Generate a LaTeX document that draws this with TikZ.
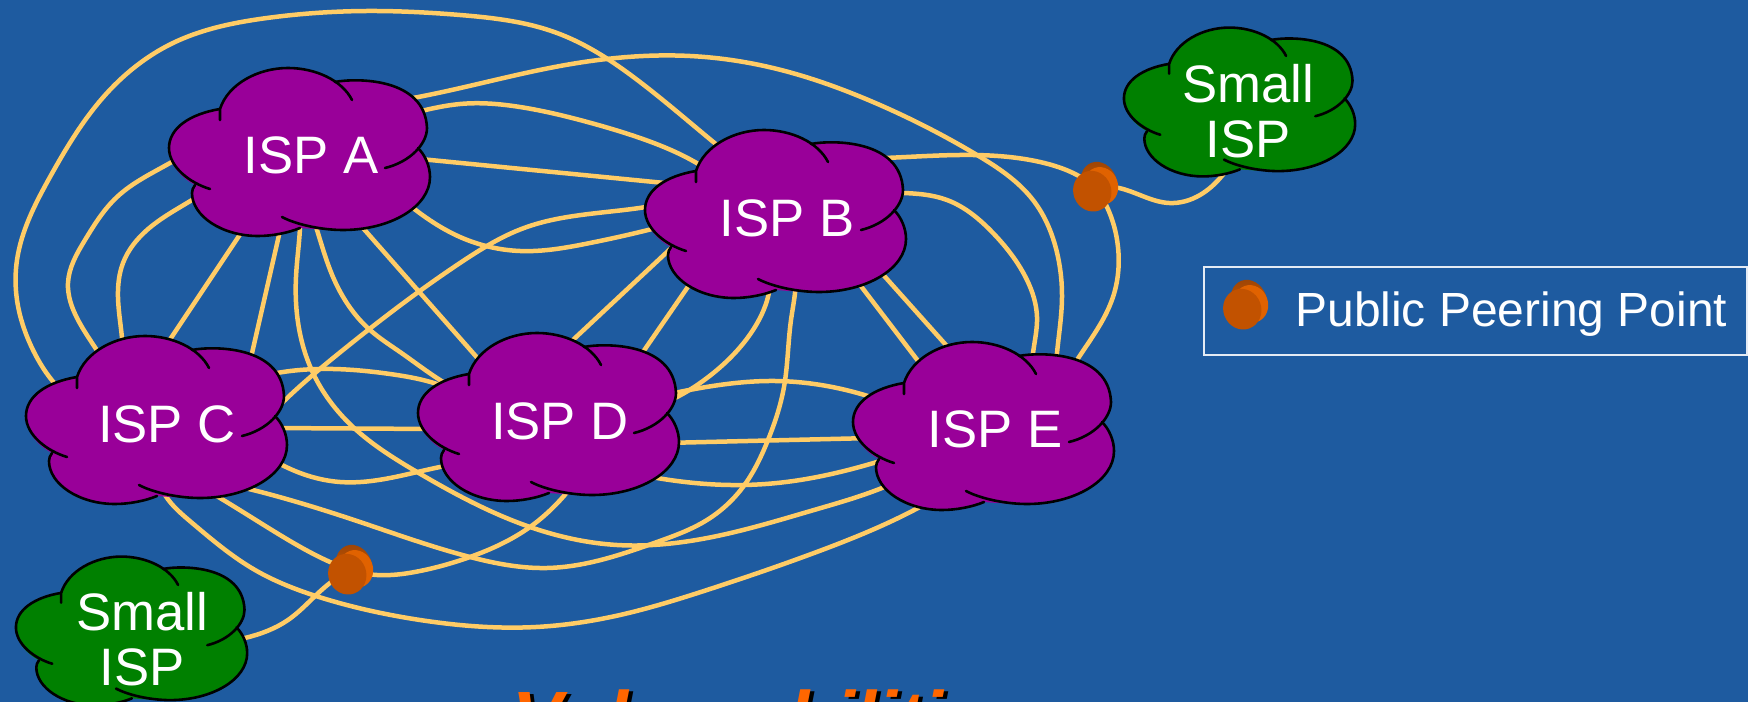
\documentclass[tikz,border=0pt]{standalone}
\usepackage{fontspec}
\setmainfont{Liberation Sans}
\usetikzlibrary{backgrounds, hobby}
\definecolor{slideblue}{RGB}{30,91,160}
\definecolor{linkgold}{RGB}{255,204,102}
\definecolor{ispviolet}{RGB}{153,0,153}
\definecolor{ispgreen}{RGB}{0,128,0}
\definecolor{pinfront}{RGB}{194,82,0}
\definecolor{pinback}{RGB}{224,98,0}
\definecolor{pintop}{RGB}{160,70,5}
\definecolor{headorange}{RGB}{255,102,0}
\tikzset{
    link/.style={draw=linkgold, line width=0.09cm},
    curvelink/.style={link, use Hobby shortcut},
    isplabel/.style={text=white, inner sep=0pt, align=center, font=\fontsize{30}{31.5}\selectfont},
    cloudedge/.style={draw=black, line width=0.052cm, line cap=round},
    cloudblob/.pic={
        \path[pic actions] (-80,-43) .. controls (-72,-68) and (-42,-84) .. (-12,-84)
            .. controls (5,-84) and (22,-79) .. (35,-70)
            .. controls (55,-74) and (125,-75) .. (127,-24)
            .. controls (127,-16) and (124,-10) .. (118,-4)
            .. controls (125,3) and (130,14) .. (130,25)
            .. controls (130,55) and (90,78) .. (43,78)
            .. controls (28,78) and (12,77) .. (0,76)
            .. controls (-12,81) and (-28,84) .. (-42,84)
            .. controls (-78,84) and (-108,64) .. (-108,41)
            .. controls (-108,38) and (-107,36) .. (-105,33)
            .. controls (-120,25) and (-131,12) .. (-131,-4)
            .. controls (-131,-24) and (-110,-38) .. (-80,-43) -- cycle;
        \draw[cloudedge] (-80,-32) -- (-80,-43) .. controls (-72,-68) and (-42,-84) .. (-12,-84)
            .. controls (15,-84) and (42,-72) .. (52,-52);
        \draw[cloudedge] (35,-70) .. controls (55,-74) and (125,-75) .. (127,-24)
            .. controls (127,-8) and (110,10) .. (85,16);
        \draw[cloudedge] (118,-4) .. controls (125,3) and (130,14) .. (130,25)
            .. controls (130,55) and (90,78) .. (43,78) .. controls (20,78) and (-5,72) .. (-18,65);
        \draw[cloudedge] (0,76) .. controls (-12,81) and (-28,84) .. (-42,84)
            .. controls (-78,84) and (-108,64) .. (-108,41) .. controls (-108,38) and (-107,36) .. (-105,33);
        \draw[cloudedge] (-80,-43) .. controls (-110,-38) and (-131,-24) .. (-131,-4)
            .. controls (-131,15) and (-110,31) .. (-90,37);
        \fill (45,-30) -- (56,-26) -- (45,-28) -- cycle;
    },
    peerpin/.pic={
        \shade[top color=pintop, bottom color=pinback, rotate=20] (5,-2) ellipse [x radius=18, y radius=22];
        \fill[pinback, rotate=20] (6,1) ellipse [x radius=17, y radius=19];
        \fill[pinfront, rotate=20] (-4,3) ellipse [x radius=19, y radius=20.5];
    }
}
\begin{document}
\begin{tikzpicture}[x=0.02cm, y=-0.02cm]
    \useasboundingbox (0,0) rectangle (1748,702);

    % Clouds
    \pic[fill=ispviolet] at (300,152) {cloudblob};
    \pic[fill=ispviolet] at (776,214) {cloudblob};
    \pic[fill=ispviolet] at (157,420) {cloudblob};
    \pic[fill=ispviolet] at (549,417) {cloudblob};
    \pic[fill=ispviolet] at (984,426) {cloudblob};
    \pic[fill=ispgreen, scale=0.886] at (1240,102) {cloudblob};
    \pic[fill=ispgreen, scale=0.886] at (132,631) {cloudblob};

    % Cloud labels
    \node[isplabel] (ispa) at (311,155) {ISP A};
    \node[isplabel] (ispb) at (787,218) {ISP B};
    \node[isplabel] (ispc) at (167,424) {ISP C};
    \node[isplabel] (ispd) at (560,421) {ISP D};
    \node[isplabel] (ispe) at (995,429) {ISP E};
    \node[isplabel] (smallup) at (1248,111) {Small\\ISP};
    \node[isplabel] (smalldown) at (142,639) {Small\\ISP};

    % Peering points
    \coordinate (pinup) at (1095,187);
    \coordinate (pindown) at (350,570);
    \pic at (pinup) {peerpin};
    \pic at (pindown) {peerpin};

    % Legend
    \draw[draw=white!88!slideblue, line width=0.04cm] (1204,267) rectangle (1747,355);
    \pic at (1245,305) {peerpin};
    \node[text=white, inner sep=0pt, right, font=\fontsize{27.3}{30}\selectfont] (legendtext) at (1295,314) {Public Peering Point};

    % Heading, cut by the page
    \begin{scope}
        \clip (0,0) rectangle (1748,702);
        \node[inner sep=0pt, anchor=base west, font=\fontsize{43}{45}\selectfont\bfseries\itshape] (headshadow) at (516,746) {Vulnerabilities};
        \node[inner sep=0pt, anchor=base west, text=headorange, font=\fontsize{43}{45}\selectfont\bfseries\itshape] (headline) at (512,744) {Vulnerabilities};
    \end{scope}

    \begin{pgfonlayer}{background}
    \fill[slideblue] (0,0) rectangle (1748,702);

    % Links from ISP A
    \draw[curvelink] (ispa.center) .. (190,152) .. (170,163) .. (117,197) .. (85,240) .. (68,283) .. (77,318) .. (98,352) .. (115,378) .. (ispc.center);
    \draw[curvelink] (ispa.center) .. (215,186) .. (192,200) .. (147,230) .. (123,263) .. (118,297) .. (122,338) .. (125,365) .. (ispc.center);
    \draw[link] ([shift={(-66,72)}]ispa.center) -- ([shift={(-4,-74)}]ispc.center);
    \draw[link] ([shift={(-29,67)}]ispa.center) -- ([shift={(83,-62)}]ispc.center);
    \draw[curvelink] (ispa.center) .. (310,205) .. (317,230) .. (333,277) .. (370,330) .. (400,352) .. (440,380) .. (ispd.center);
    \draw[link] ([shift={(44,64)}]ispa.center) -- ([shift={(-72,-51)}]ispd.center);
    \draw[curvelink] (ispa.center) .. (370,108) .. (413,98) .. (560,66) .. (690,56) .. (773,68) .. (873,102) .. (977,155) .. (1033,200) .. (1058,257) .. (1062,297) .. (1057,353) .. (1053,380) .. (ispe.center);
    \draw[curvelink] (ispa.center) .. (380,122) .. (417,112) .. (460,104) .. (520,107) .. (591,123) .. (640,138) .. (700,165) .. (720,178) .. (ispb.center);
    \draw[link] ([shift={(99,3)}]ispa.center) -- ([shift={(-102,-33)}]ispb.center);
    \draw[curvelink] (ispa.center) .. (390,190) .. (413,208) .. (460,237) .. (520,251) .. (590,243) .. (652,229) .. (680,222) .. (ispb.center);
    \draw[curvelink] (ispa.center) .. (301,205) .. (300,228) .. (296,277) .. (313,373) .. (353,427) .. (417,472) .. (530,527) .. (617,545) .. (743,530) .. (814,510) .. (882,488) .. (905,478) .. (ispe.center);

    % Links from ISP C
    \draw[curvelink] (ispc.center) .. (56,385) .. (33,350) .. (17,300) .. (17,260) .. (50,177) .. (107,93) .. (173,43) .. (267,18) .. (367,11) .. (460,15) .. (557,33) .. (640,82) .. (717,145) .. (735,160) .. (ispb.center);
    \draw[curvelink] (ispc.center) .. (258,424) .. (283,402) .. (343,350) .. (417,293) .. (460,263) .. (524,228) .. (652,206) .. (680,201) .. (ispb.center);
    \draw[curvelink] (ispc.center) .. (215,478) .. (253,490) .. (360,522) .. (470,557) .. (547,568) .. (657,542) .. (707,520) .. (743,487) .. (768,440) .. (784,387) .. (791,320) .. (795,293) .. (796,270) .. (ispb.center);
    \draw[curvelink] (ispc.center) .. (255,378) .. (277,373) .. (333,369) .. (390,374) .. (440,385) .. (465,395) .. (ispd.center);
    \draw[link] ([shift={(103,4)}]ispc.center) -- ([shift={(-125,8)}]ispd.center);
    \draw[curvelink] (ispc.center) .. (260,453) .. (282,465) .. (340,482) .. (390,478) .. (440,467) .. (465,462) .. (ispd.center);
    \draw[curvelink] (ispc.center) .. (165,495) .. (191,522) .. (255,570) .. (319,597) .. (420,620) .. (536,627) .. (620,615) .. (707,590) .. (814,553) .. (918,508) .. (940,495) .. (ispe.center);
    \draw[curvelink] (ispc.center) .. (200,485) .. (220,498) .. (280,535) .. (330,562) .. (pindown);

    % Links from the peering points
    \draw[curvelink] (pindown) .. (377,575) .. (420,571) .. (470,557) .. (530,527) .. (563,497) .. (575,480) .. (ispd.center);
    \draw[curvelink] (pindown) .. (325,587) .. (288,620) .. (245,638) .. (smalldown.center);
    \draw[curvelink] (ispb.center) .. (860,160) .. (885,158) .. (973,155) .. (1040,162) .. (1077,175) .. (pinup);
    \draw[curvelink] (pinup) .. (1119,188) .. (1169,203) .. (1200,195) .. (1221,177) .. (1230,165) .. (smallup.center);
    \draw[curvelink] (pinup) .. (1107,207) .. (1118,247) .. (1113,297) .. (1077,360) .. (1065,378) .. (ispe.center);

    % Links from ISP B
    \draw[curvelink] (ispb.center) .. (772,275) .. (768,297) .. (753,330) .. (717,370) .. (679,396) .. (660,405) .. (ispd.center);
    \draw[link] ([shift={(-105,20)}]ispb.center) -- ([shift={(-1,-68)}]ispd.center);
    \draw[link] ([shift={(-93,60)}]ispb.center) -- ([shift={(74,-56)}]ispd.center);
    \draw[link] ([shift={(67,59)}]ispb.center) -- ([shift={(-67,-55)}]ispe.center);
    \draw[link] ([shift={(91,51)}]ispb.center) -- ([shift={(-41,-75)}]ispe.center);
    \draw[curvelink] (ispb.center) .. (880,193) .. (903,193) .. (947,200) .. (993,233) .. (1027,280) .. (1037,317) .. (1033,353) .. (1030,375) .. (ispe.center);

    % Links from ISP D to ISP E
    \draw[curvelink] (ispd.center) .. (655,397) .. (679,392) .. (775,381) .. (871,397) .. (895,405) .. (ispe.center);
    \draw[link] ([shift={(105,22)}]ispd.center) -- ([shift={(-123,9)}]ispe.center);
    \draw[curvelink] (ispd.center) .. (630,472) .. (657,478) .. (743,485) .. (786,482) .. (877,462) .. (900,455) .. (ispe.center);
    \end{pgfonlayer}
\end{tikzpicture}
\end{document}
